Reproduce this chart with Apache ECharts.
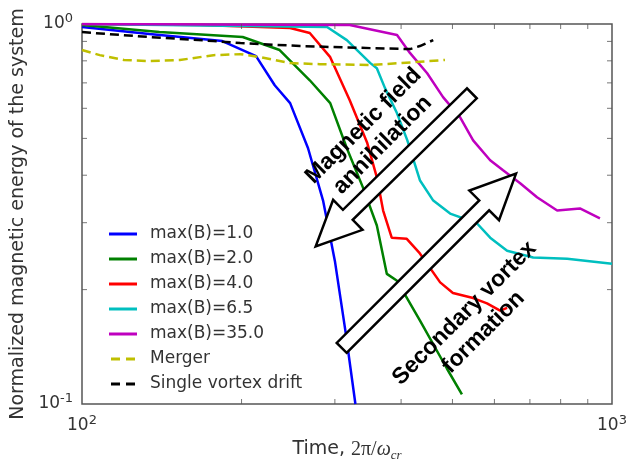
<!DOCTYPE html>
<html>
<head>
<meta charset="utf-8">
<script src="https://cdn.jsdelivr.net/npm/echarts@6/dist/echarts.min.js"></script>
<style>html,body{margin:0;padding:0;background:#fff}#c{width:628px;height:464px}</style>
</head>
<body>
<div id="c"></div>
<script>
// ---- data (x = time, y = normalized magnetic energy) ----
const seriesNames = ['max(B)=1.0','max(B)=2.0','max(B)=4.0','max(B)=6.5','max(B)=35.0','Merger','Single vortex drift'];
const b1 = [[100,0.982],[134,0.941],[184,0.902],[213,0.823],[231,0.690],[247,0.619],[267,0.471],[285,0.343],[300,0.238],[314,0.156],[328,0.100]];
const b2 = [[100,0.994],[140,0.952],[201,0.924],[236,0.854],[269,0.711],[294,0.619],[316,0.471],[339,0.371],[360,0.295],[376,0.220],[393,0.211],[434,0.166],[488,0.124],[521,0.106]];
const b4 = [[100,1.0],[167,0.994],[247,0.976],[269,0.947],[294,0.818],[320,0.630],[345,0.488],[360,0.395],[370,0.323],[384,0.274],[410,0.272],[434,0.249],[474,0.209],[501,0.196],[547,0.190],[581,0.184],[615,0.176],[634,0.179]];
const b65 = [[100,1.0],[290,0.982],[316,0.907],[350,0.789],[360,0.765],[373,0.678],[393,0.582],[411,0.494],[434,0.388],[460,0.343],[495,0.317],[556,0.299],[589,0.274],[634,0.253],[710,0.243],[823,0.241],[1000,0.234]];
const b35 = [[100,1.0],[320,0.994],[393,0.935],[416,0.838],[448,0.742],[480,0.642],[517,0.568],[547,0.494],[589,0.438],[623,0.412],[671,0.381],[722,0.350],[788,0.323],[870,0.327],[949,0.308]];
const merger = [[100,0.854],[108,0.828],[120,0.804],[134,0.799],[153,0.804],[177,0.828],[199,0.833],[217,0.818],[247,0.789],[281,0.784],[350,0.780],[398,0.789],[484,0.804]];
const single = [[100,0.952],[134,0.924],[177,0.902],[199,0.891],[258,0.875],[350,0.864],[416,0.859],[434,0.875],[460,0.907]];
const xTicks = [100, 1000];
const yTicks = [0.1, 1];
const xMinorTicks = [200,300,400,500,600,700,800,900];
const yMinorTicks = [0.2,0.3,0.4,0.5,0.6,0.7,0.8,0.9];
// annotation anchors in data space: [tip], [tail]
const arrow1 = [[276,0.260],[544,0.657]];
const arrow2 = [[659,0.404],[309,0.1405]];
const label1 = {text:'Magnetic field\nannihilation', at:[354,0.5095]};
const label2 = {text:'Secondary vortex\nformation', at:[549,0.1636]};

const colors = ['#0000ff','#008000','#ff0000','#00bfbf','#bf00bf','#bfbf00','#000000'];
const datas = [b1,b2,b4,b65,b35,merger,single];
const font = 'DejaVu Sans';

function sup(v){
  const e = Math.round(Math.log10(v));
  return '{b|10}{s|' + e + '}';
}
const labelRich = {
  b:{fontFamily:font,fontSize:17,color:'#333',lineHeight:24},
  s:{fontFamily:font,fontSize:13,color:'#333',lineHeight:13,verticalAlign:'top'}
};

const series = datas.map((d,i)=>({
  name: seriesNames[i], type:'line', data:d, symbol:'none', showSymbol:false,
  lineStyle:{color:colors[i], width:2.5, type: i>=5 ? [9,5] : 'solid'},
  itemStyle:{color:colors[i]}, z: 2+i, animation:false, clip:true
}));
function tickSeries(points, size, offset){
  return {type:'scatter', data:points, symbol:'rect', symbolSize:size, symbolOffset:offset,
    itemStyle:{color:'#555'}, clip:false, silent:true, animation:false, z:20};
}
series.push(tickSeries(xMinorTicks.map(v=>[v,0.1]), [1,5], [0,-2.5]));
series.push(tickSeries(xMinorTicks.map(v=>[v,1]), [1,5], [0,2.5]));
series.push(tickSeries(yMinorTicks.map(v=>[100,v]), [5,1], [2.5,0]));
series.push(tickSeries(yMinorTicks.map(v=>[1000,v]), [5,1], [-2.5,0]));

const solidIcon = 'path://M0 0H28V3H0Z';
const dashIcon = 'path://M1 0H10V3H1Z M16 0H25V3H16Z';

const chart = echarts.init(document.getElementById('c'), null, {renderer:'canvas'});
chart.setOption({
  animation:false,
  backgroundColor:'#fff',
  grid:{left:82,right:16,top:24,bottom:60,containLabel:false,outerBoundsMode:'none',
    show:true,borderColor:'#555',borderWidth:1.5,backgroundColor:'transparent'},
  xAxis:{type:'log',logBase:10,min:xTicks[0],max:xTicks[1],
    axisLine:{show:false},axisTick:{show:false},splitLine:{show:false},
    axisLabel:{formatter:sup,rich:labelRich,margin:10,showMinLabel:true,showMaxLabel:true,hideOverlap:false},
    name:'{t|Time, }{m|2π/}{w|ω}{c|cr}',nameLocation:'middle',nameGap:32,
    nameTextStyle:{rich:{
      t:{fontFamily:font,fontSize:19,color:'#333',lineHeight:26},
      m:{fontFamily:'Liberation Serif',fontSize:20,color:'#333',lineHeight:26},
      w:{fontFamily:'Liberation Serif',fontStyle:'italic',fontSize:20,color:'#333',lineHeight:26},
      c:{fontFamily:'Liberation Serif',fontStyle:'italic',fontSize:13,color:'#333',lineHeight:18,verticalAlign:'bottom'}
    }}
  },
  yAxis:{type:'log',logBase:10,min:yTicks[0],max:yTicks[1],
    axisLine:{show:false},axisTick:{show:false},splitLine:{show:false},
    axisLabel:{formatter:sup,rich:labelRich,margin:9,showMinLabel:true,showMaxLabel:true,hideOverlap:false},
    name:'Normalized magnetic energy of the system',nameLocation:'middle',nameGap:54,nameRotate:90,
    nameTextStyle:{fontFamily:font,fontSize:19,color:'#333'}
  },
  legend:{data:seriesNames.map((n,i)=>({name:n, icon: i>=5 ? dashIcon : solidIcon})),
    orient:'vertical',left:104,top:220,itemWidth:28,itemHeight:3,itemGap:7,
    textStyle:{fontFamily:font,fontSize:17,color:'#333',lineHeight:18,padding:[0,0,0,8]}},
  series:series
});

function arrowPoints(tip, tail, headLen, headHalf, shaftHalf){
  const dx = tip[0]-tail[0], dy = tip[1]-tail[1];
  const L = Math.hypot(dx,dy); const ux=dx/L, uy=dy/L; const nx=-uy, ny=ux;
  const bx = tip[0]-ux*headLen, by = tip[1]-uy*headLen;
  return [
    [tail[0]+nx*shaftHalf, tail[1]+ny*shaftHalf],
    [bx+nx*shaftHalf, by+ny*shaftHalf],
    [bx+nx*headHalf, by+ny*headHalf],
    [tip[0],tip[1]],
    [bx-nx*headHalf, by-ny*headHalf],
    [bx-nx*shaftHalf, by-ny*shaftHalf],
    [tail[0]-nx*shaftHalf, tail[1]-ny*shaftHalf]
  ];
}
const px = p => chart.convertToPixel({gridIndex:0}, p);
const arrowStyle = {fill:'#fff',stroke:'#000',lineWidth:2.5,lineJoin:'miter'};
const textStyleA = {fill:'#000',font:'bold 23px "Liberation Sans"',align:'center',verticalAlign:'middle',lineHeight:27};
const l1 = px(label1.at), l2 = px(label2.at);
chart.setOption({graphic:[
  {type:'polygon',shape:{points:arrowPoints(px(arrow1[0]),px(arrow1[1]),45,21,7)},style:arrowStyle,z:100},
  {type:'polygon',shape:{points:arrowPoints(px(arrow2[0]),px(arrow2[1]),45,21,7)},style:arrowStyle,z:100},
  {type:'text',x:l1[0],y:l1[1],rotation:Math.PI/4,style:Object.assign({text:label1.text},textStyleA),z:101},
  {type:'text',x:l2[0],y:l2[1],rotation:Math.PI/4,style:Object.assign({text:label2.text},textStyleA),z:101}
]});
</script>
</body>
</html>
